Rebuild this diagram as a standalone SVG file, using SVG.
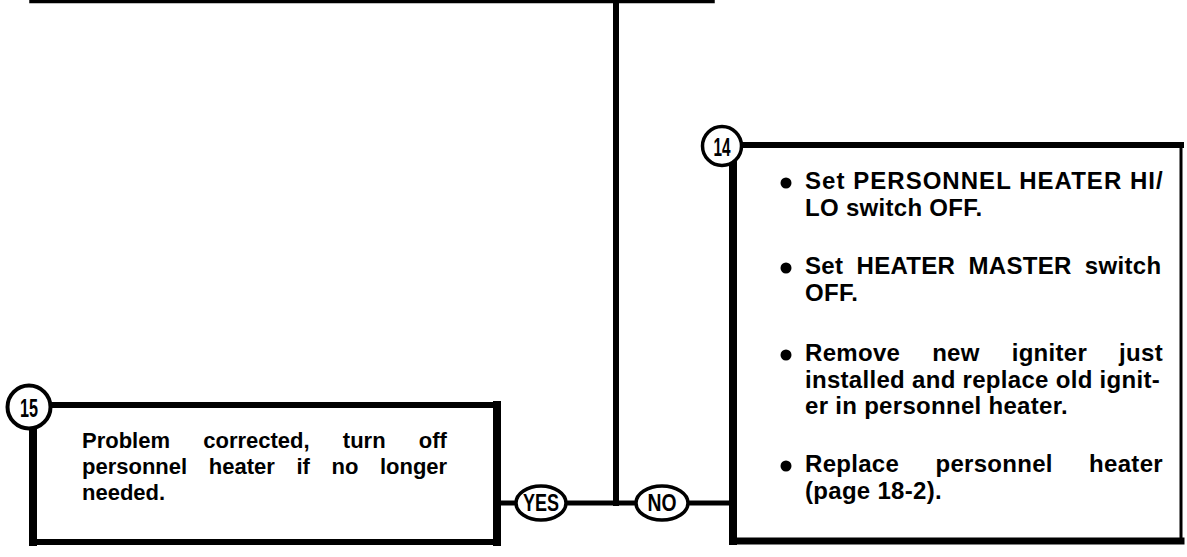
<svg xmlns="http://www.w3.org/2000/svg" width="1187" height="557" viewBox="0 0 1187 557">
<style>
.t{font-family:"Liberation Sans",Arial,sans-serif;font-weight:bold;fill:#000}
.b15{font-size:22px}
.b14{font-size:24px;letter-spacing:0.3px}
.num{font-family:"Liberation Sans",Arial,sans-serif;font-weight:bold;font-size:26px;text-anchor:middle}
.lbl{font-family:"Liberation Sans",Arial,sans-serif;font-weight:bold;font-size:23px;text-anchor:middle}
.ln{stroke:#000;fill:none;stroke-linecap:square}
.ov{fill:#fff;stroke:#000;stroke-width:3.5}
.dot{fill:#000}
</style>
<rect width="1187" height="557" fill="#fff"/>
<g id="connectors">
<line class="ln" x1="31" y1="1.5" x2="713" y2="1.5" stroke-width="3.5" stroke-linecap="round"/>
<line class="ln" x1="616" y1="0" x2="616" y2="503" stroke-width="6"/>
<line class="ln" x1="499" y1="503" x2="516" y2="503" stroke-width="5"/>
<line class="ln" x1="566" y1="503" x2="636" y2="503" stroke-width="5"/>
<line class="ln" x1="688" y1="503" x2="731" y2="503" stroke-width="5"/>
<g id="yes">
<ellipse class="ov" cx="541" cy="503" rx="25" ry="17"/>
<text class="lbl" x="541" y="511" textLength="36" lengthAdjust="spacingAndGlyphs">YES</text>
</g>
<g id="no">
<ellipse class="ov" cx="662" cy="503" rx="26" ry="17"/>
<text class="lbl" x="662" y="511" textLength="29" lengthAdjust="spacingAndGlyphs">NO</text>
</g>
</g>
<g id="node15">
<line class="ln" x1="48" y1="405" x2="497" y2="405" stroke-width="6"/>
<line class="ln" x1="497" y1="405" x2="497" y2="542" stroke-width="8"/>
<line class="ln" x1="33" y1="542" x2="497" y2="542" stroke-width="6"/>
<line class="ln" x1="33" y1="426" x2="33" y2="542" stroke-width="8"/>
<circle cx="29" cy="407" r="21.5" fill="#fff" stroke="#000" stroke-width="4"/>
<text class="num" x="29" y="416.5" textLength="18" lengthAdjust="spacingAndGlyphs">15</text>
<text class="t b15" x="82" y="448" word-spacing="27.1">Problem corrected, turn off</text>
<text class="t b15" x="82" y="474" word-spacing="15.5">personnel heater if no longer</text>
<text class="t b15" x="82" y="500">needed.</text>
</g>
<g id="node14">
<line class="ln" x1="740" y1="145" x2="1181" y2="145" stroke-width="6"/>
<line x1="1181" y1="145" x2="1181" y2="541" stroke="#000" stroke-width="3"/>
<line class="ln" x1="733" y1="541" x2="1181" y2="541" stroke-width="7"/>
<line class="ln" x1="733" y1="164" x2="733" y2="541" stroke-width="8"/>
<circle cx="722" cy="146" r="19.5" fill="#fff" stroke="#000" stroke-width="3.5"/>
<text class="num" x="722" y="155.5" textLength="17" lengthAdjust="spacingAndGlyphs">14</text>
<circle class="dot" cx="786" cy="183" r="5.5"/>
<text class="t b14" x="805" y="189" textLength="358" lengthAdjust="spacing">Set PERSONNEL HEATER HI/</text>
<text class="t b14" x="805" y="216">LO switch OFF.</text>
<circle class="dot" cx="786" cy="268" r="5.5"/>
<text class="t b14" x="805" y="274" word-spacing="6.3">Set HEATER MASTER switch</text>
<text class="t b14" x="805" y="301">OFF.</text>
<circle class="dot" cx="786" cy="355" r="5.5"/>
<text class="t b14" x="805" y="361" word-spacing="25">Remove new igniter just</text>
<text class="t b14" x="805" y="388" textLength="355" lengthAdjust="spacing">installed and replace old ignit-</text>
<text class="t b14" x="805" y="414">er in personnel heater.</text>
<circle class="dot" cx="786" cy="466" r="5.5"/>
<text class="t b14" x="805" y="472" word-spacing="29.3">Replace personnel heater</text>
<text class="t b14" x="805" y="499">(page 18-2).</text>
</g>
</svg>
